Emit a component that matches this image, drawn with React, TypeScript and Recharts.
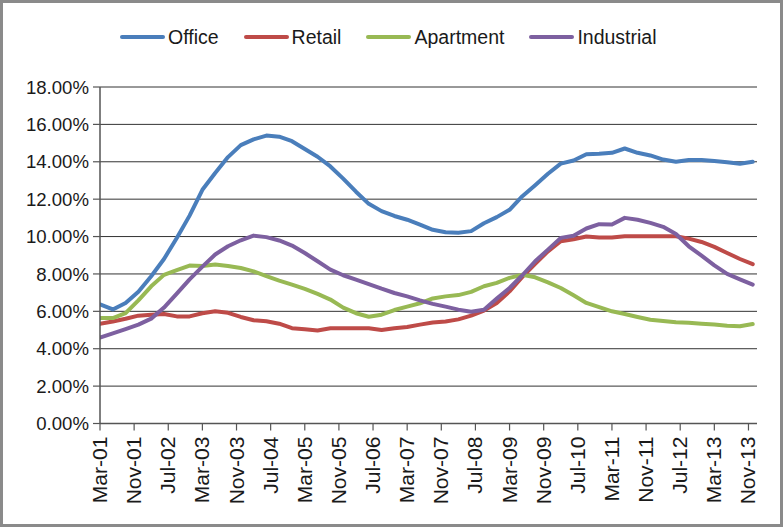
import React from 'react';
import { LineChart, Line, XAxis, YAxis, CartesianGrid, Legend } from 'recharts';

// Quarterly periods (Mar-01 .. Dec-13)
const periods = [
  'Mar-01', 'Jun-01', 'Sep-01', 'Dec-01', 'Mar-02', 'Jun-02', 'Sep-02', 'Dec-02',
  'Mar-03', 'Jun-03', 'Sep-03', 'Dec-03', 'Mar-04', 'Jun-04', 'Sep-04', 'Dec-04',
  'Mar-05', 'Jun-05', 'Sep-05', 'Dec-05', 'Mar-06', 'Jun-06', 'Sep-06', 'Dec-06',
  'Mar-07', 'Jun-07', 'Sep-07', 'Dec-07', 'Mar-08', 'Jun-08', 'Sep-08', 'Dec-08',
  'Mar-09', 'Jun-09', 'Sep-09', 'Dec-09', 'Mar-10', 'Jun-10', 'Sep-10', 'Dec-10',
  'Mar-11', 'Jun-11', 'Sep-11', 'Dec-11', 'Mar-12', 'Jun-12', 'Sep-12', 'Dec-12',
  'Mar-13', 'Jun-13', 'Sep-13', 'Dec-13',
];

const office = [
  6.38, 6.1, 6.45, 7.05, 7.88, 8.8, 9.92, 11.12, 12.5, 13.4, 14.25, 14.89, 15.2,
  15.4, 15.34, 15.1, 14.68, 14.27, 13.75, 13.1, 12.4, 11.75, 11.36, 11.1, 10.9, 10.64,
  10.36, 10.23, 10.2, 10.29, 10.71, 11.04, 11.43, 12.16, 12.75, 13.36, 13.9, 14.07, 14.4,
  14.43, 14.48, 14.71, 14.48, 14.34, 14.12, 14.0, 14.09, 14.1, 14.04, 13.98, 13.9, 14.0,
];

const retail = [
  5.34, 5.46, 5.6, 5.77, 5.82, 5.86, 5.73, 5.73, 5.9, 6.0, 5.92, 5.7, 5.52,
  5.47, 5.34, 5.1, 5.04, 4.98, 5.09, 5.1, 5.1, 5.1, 5.0, 5.1, 5.16, 5.29,
  5.4, 5.46, 5.57, 5.77, 6.04, 6.45, 7.07, 7.84, 8.54, 9.21, 9.75, 9.86, 10.0,
  9.95, 9.95, 10.02, 10.02, 10.02, 10.02, 10.02, 9.89, 9.71, 9.45, 9.12, 8.8, 8.52,
];

const apartment = [
  5.64, 5.64, 5.9, 6.59, 7.34, 7.95, 8.21, 8.45, 8.43, 8.5, 8.43, 8.32, 8.14,
  7.88, 7.64, 7.43, 7.2, 6.93, 6.63, 6.2, 5.9, 5.71, 5.82, 6.07, 6.25, 6.43,
  6.69, 6.8, 6.87, 7.04, 7.34, 7.52, 7.79, 7.96, 7.82, 7.55, 7.25, 6.86, 6.45,
  6.22, 6.0, 5.86, 5.7, 5.55, 5.48, 5.41, 5.39, 5.34, 5.3, 5.23, 5.2, 5.32,
];

const industrial = [
  4.6, 4.82, 5.05, 5.29, 5.61, 6.2, 6.95, 7.71, 8.39, 9.04, 9.48, 9.8, 10.05,
  9.97, 9.79, 9.52, 9.12, 8.68, 8.23, 7.93, 7.7, 7.46, 7.21, 6.98, 6.8, 6.59,
  6.4, 6.25, 6.09, 5.98, 6.09, 6.68, 7.25, 7.93, 8.68, 9.3, 9.93, 10.04, 10.43,
  10.66, 10.64, 11.0, 10.9, 10.73, 10.52, 10.14, 9.48, 8.98, 8.46, 8.0, 7.71, 7.43,
];

const tickLabels = [
  'Mar-01', 'Nov-01', 'Jul-02', 'Mar-03', 'Nov-03', 'Jul-04', 'Mar-05', 'Nov-05',
  'Jul-06', 'Mar-07', 'Nov-07', 'Jul-08', 'Mar-09', 'Nov-09', 'Jul-10', 'Mar-11',
  'Nov-11', 'Jul-12', 'Mar-13', 'Nov-13',
];

const yTicks = [0, 2, 4, 6, 8, 10, 12, 14, 16, 18];

const seriesNames = ['Office', 'Retail', 'Apartment', 'Industrial'];
const seriesColors = ['#4A7EBB', '#BE4B48', '#98B954', '#7D60A0'];
const seriesValues = [office, retail, apartment, industrial];

const MONTHS_PER_PERIOD = 3;
const MONTHS_PER_TICK = 8;
const AXIS_END_MONTH = 154;

const data = periods.map((p, i) => {
  const row: Record<string, number | string> = { m: i * MONTHS_PER_PERIOD, period: p };
  seriesNames.forEach((n, k) => {
    row[n] = seriesValues[k][i];
  });
  return row;
});

const xTicks = tickLabels.map((_, i) => i * MONTHS_PER_TICK);

const FONT = '"Liberation Sans", Arial, Helvetica, sans-serif';

const XTick = (props: any) => {
  const { x, y, payload } = props;
  const idx = Math.round(payload.value / MONTHS_PER_TICK);
  const label = tickLabels[idx] ?? '';
  return (
    <g transform={`translate(${x} ${y}) rotate(-90) scale(1.08 1)`}>
      <text
        x={0}
        y={0}
        textAnchor="end"
        dy="0.36em"
        fontSize={19.5}
        fontFamily={FONT}
        fill="#1a1a1a"
      >
        {label}
      </text>
    </g>
  );
};

const LegendContent = () => (
  <div style={{ display: 'flex', alignItems: 'center', fontFamily: FONT, fontSize: 19.5, color: '#1a1a1a' }}>
    {seriesNames.map((n, k) => (
      <div key={n} style={{ display: 'flex', alignItems: 'center', marginRight: 25 }}>
        <svg width={45} height={8} style={{ display: 'block' }}>
          <line x1={2} y1={4} x2={43} y2={4} stroke={seriesColors[k]} strokeWidth={4} strokeLinecap="round" />
        </svg>
        <span style={{ marginLeft: 3, lineHeight: '22px' }}>{n}</span>
      </div>
    ))}
  </div>
);

export default function App() {
  return (
    <div style={{ position: 'absolute', left: 0, top: 0, width: 783, height: 527, background: '#fff' }}>
      <LineChart
        width={783}
        height={527}
        data={data}
        margin={{ top: 87, right: 26, bottom: 0, left: 0 }}
        style={{ fontFamily: FONT }}
      >
        <CartesianGrid vertical={false} stroke="#333" strokeWidth={1} />
        <XAxis
          dataKey="m"
          type="number"
          domain={[0, AXIS_END_MONTH]}
          ticks={xTicks}
          interval={0}
          tick={<XTick />}
          tickSize={7}
          tickMargin={6}
          height={103.5}
          axisLine={{ stroke: '#555', strokeWidth: 1.5 }}
          tickLine={{ stroke: '#555', strokeWidth: 1.2 }}
          allowDataOverflow
        />
        <YAxis
          type="number"
          domain={[0, 18]}
          ticks={yTicks}
          interval={0}
          width={100}
          tickSize={7}
          tickMargin={4}
          tickFormatter={(v: number) => `${v.toFixed(2)}%`}
          tick={{ fontSize: 18.6, fill: '#1a1a1a', fontFamily: FONT }}
          axisLine={{ stroke: '#555', strokeWidth: 1.5 }}
          tickLine={{ stroke: '#555', strokeWidth: 1.2 }}
        />
        <Legend
          verticalAlign="middle"
          align="center"
          layout="horizontal"
          content={<LegendContent />}
          wrapperStyle={{ top: 26, left: 120, width: 640, height: 22 }}
        />
        {seriesNames.map((n, k) => (
          <Line
            key={n}
            type="linear"
            dataKey={n}
            stroke={seriesColors[k]}
            strokeWidth={4}
            dot={false}
            activeDot={false}
            strokeLinejoin="round"
            strokeLinecap="round"
            isAnimationActive={false}
          />
        ))}
      </LineChart>
      <div
        style={{
          position: 'absolute',
          left: 0,
          top: 0,
          width: 783,
          height: 527,
          boxSizing: 'border-box',
          border: '3px solid #8a8a8a',
          pointerEvents: 'none',
        }}
      />
    </div>
  );
}
